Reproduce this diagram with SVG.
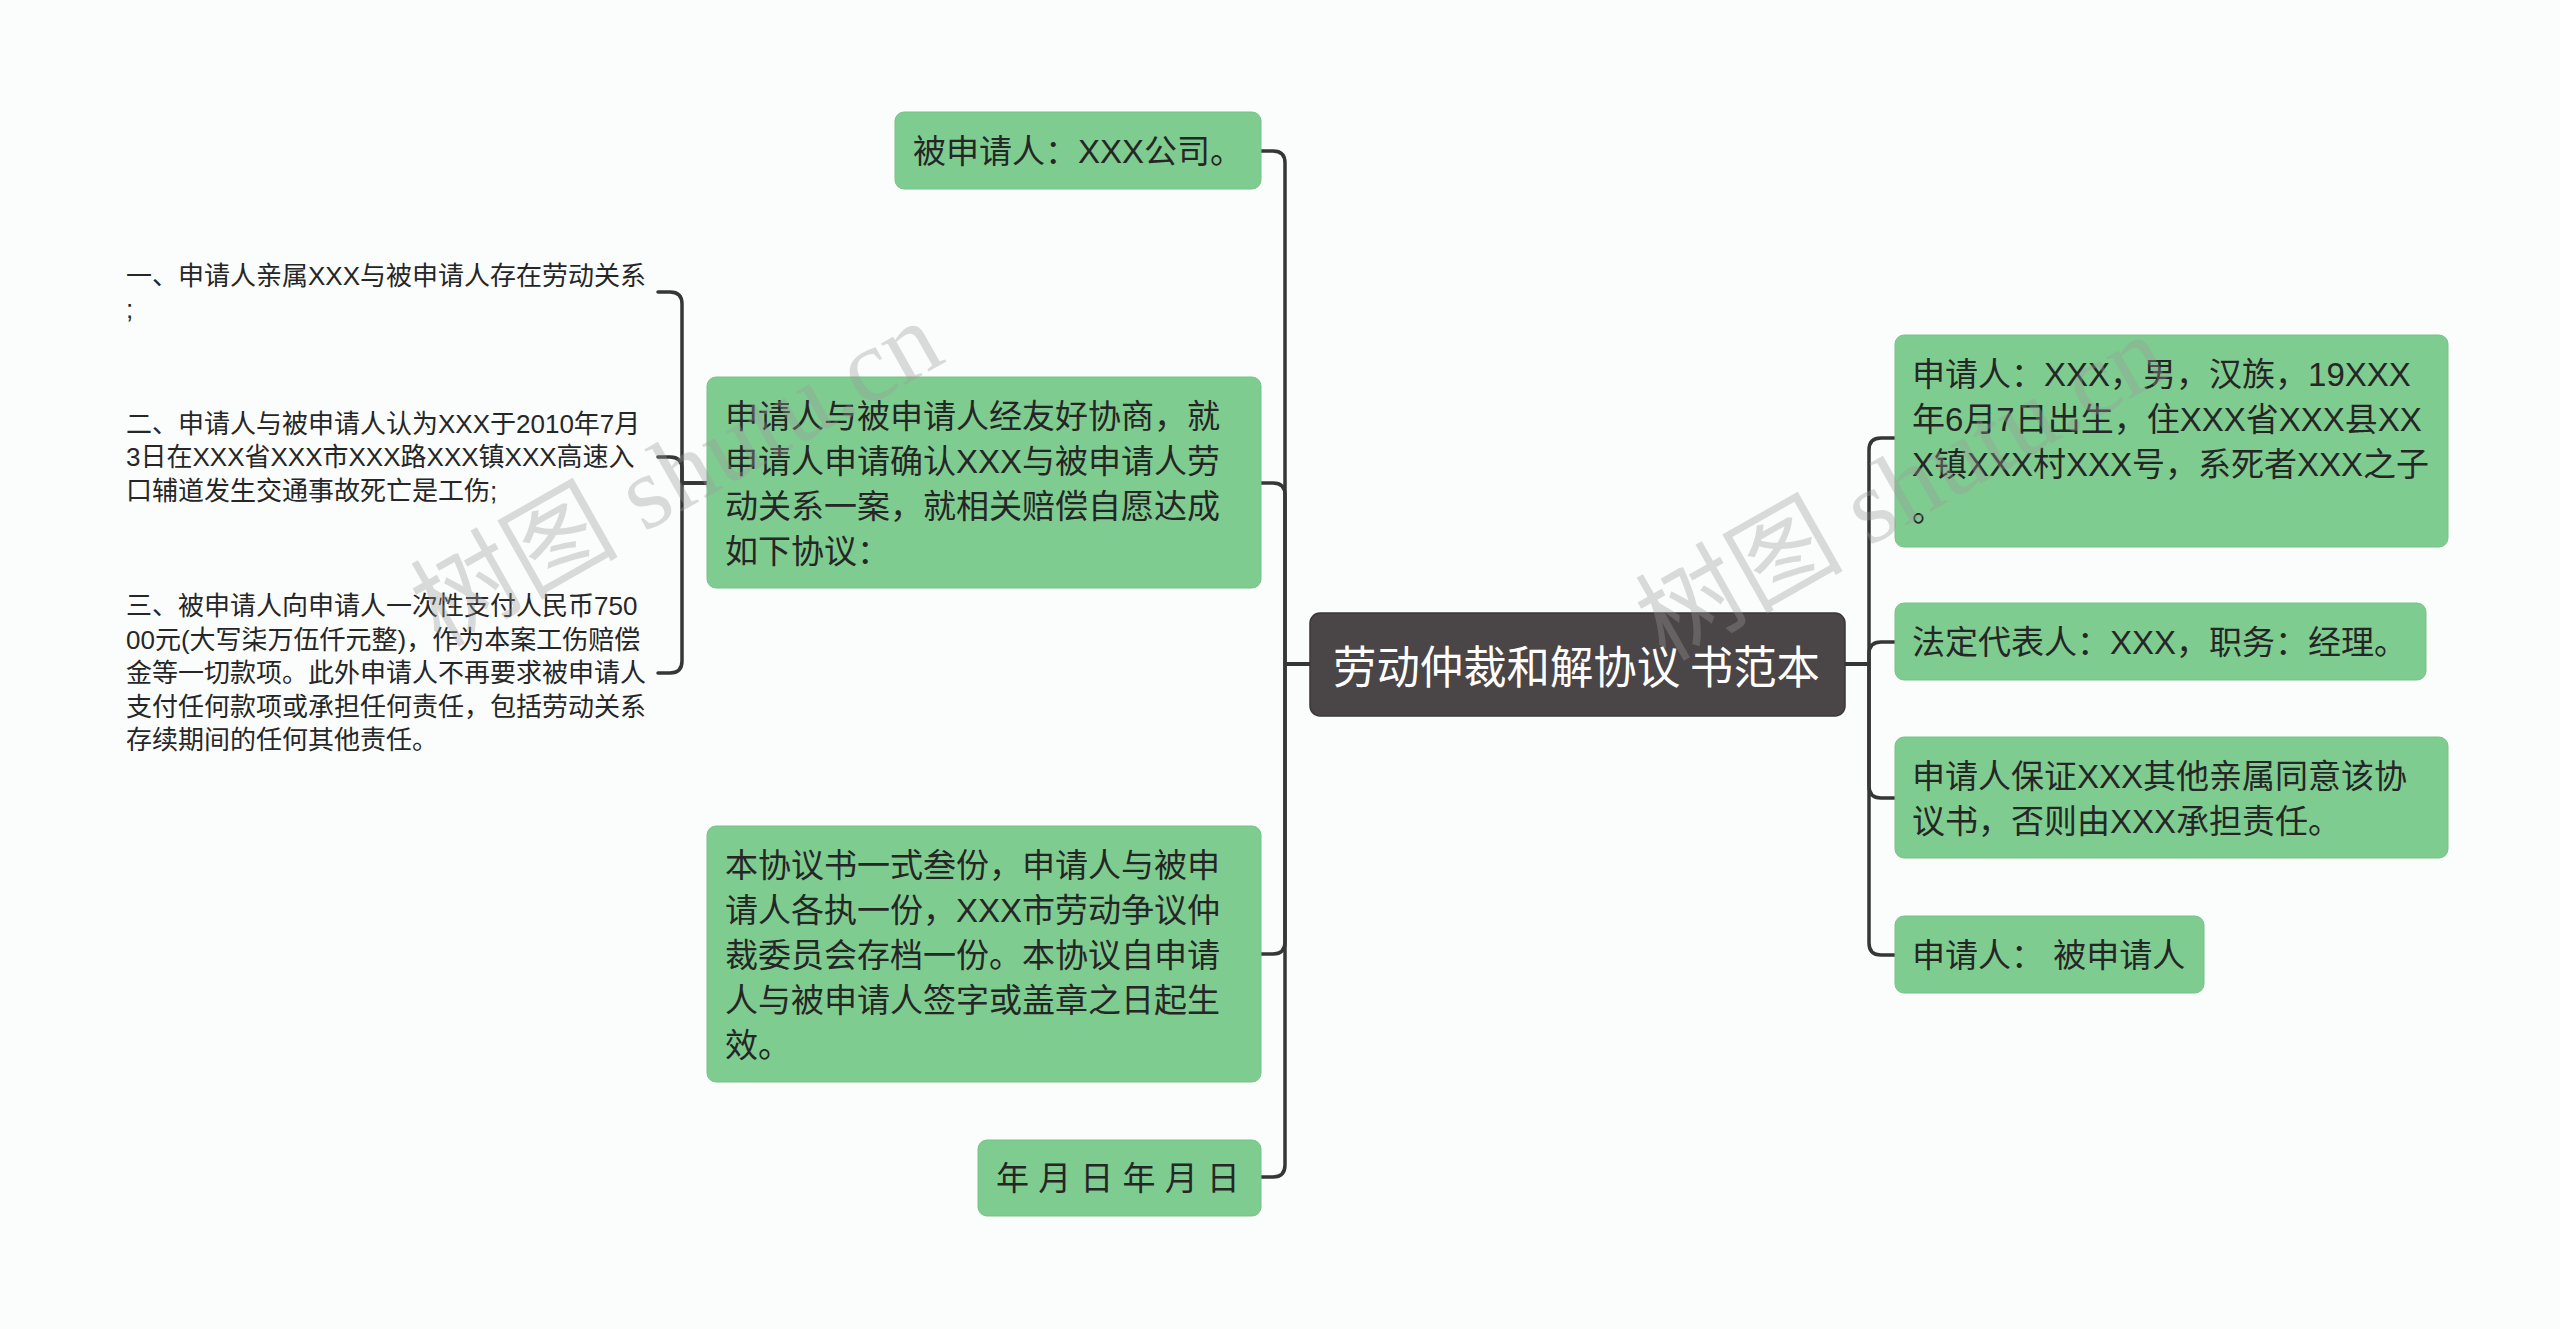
<svg xmlns="http://www.w3.org/2000/svg" width="2560" height="1329" viewBox="0 0 2560 1329">
<style>
.bg{fill:#fbfdfd}
.node rect{fill:#7fcc90;stroke:#76c287;stroke-width:1}
.node text{font-family:"Liberation Sans","Noto Sans CJK SC",sans-serif;font-size:33px;fill:#262626;dominant-baseline:central}
.root rect{fill:#4a4546;stroke:#3b3738;stroke-width:1.5}
.root text{font-family:"Noto Sans CJK SC",sans-serif;font-size:45px;fill:#ffffff;dominant-baseline:central}
.sub text{font-family:"Liberation Sans","Noto Sans CJK SC",sans-serif;font-size:26px;fill:#262626;dominant-baseline:central}
.conn path{fill:none;stroke:#363636;stroke-width:3.5;stroke-linecap:round;stroke-linejoin:round}
.wm{font-family:"Liberation Serif","Noto Sans CJK SC",serif;font-size:104px;fill:#9a9a9a;opacity:0.35}
</style>
<rect class="bg" x="0" y="0" width="2560" height="1329"/>

<g id="connectors" class="conn">
  <path d="M1310,664 H1285 V163 Q1285,151 1273,151 H1261"/>
  <path d="M1310,664 H1285 V495 Q1285,483 1273,483 H1261"/>
  <path d="M1310,664 H1285 V942 Q1285,954 1273,954 H1261"/>
  <path d="M1310,664 H1285 V1165 Q1285,1177 1273,1177 H1261"/>
  <path d="M1845,664 H1869 V450 Q1869,438 1881,438 H1895"/>
  <path d="M1845,664 H1869 V654 Q1869,642 1881,642 H1895"/>
  <path d="M1845,664 H1869 V786 Q1869,798 1881,798 H1895"/>
  <path d="M1845,664 H1869 V943 Q1869,955 1881,955 H1895"/>
  <path d="M707,483 H682 V304 Q682,292 670,292 H658"/>
  <path d="M707,483 H682 V469 Q682,457 670,457 H658"/>
  <path d="M707,483 H682 V661 Q682,673 670,673 H658"/>
</g>

<g id="root" class="root">
  <rect x="1310" y="613" width="535" height="103" rx="10"/>
  <text x="1333" y="664" textLength="487" lengthAdjust="spacingAndGlyphs">劳动仲裁和解协议 书范本</text>
</g>

<g id="node-l1" class="node">
  <rect x="895" y="112" width="366" height="77" rx="9"/>
  <text x="913" y="151">被申请人：XXX公司。</text>
</g>
<g id="node-l2" class="node">
  <rect x="707" y="377" width="554" height="211" rx="9"/>
  <text x="725" y="416">申请人与被申请人经友好协商，就</text>
  <text x="725" y="461">申请人申请确认XXX与被申请人劳</text>
  <text x="725" y="506">动关系一案，就相关赔偿自愿达成</text>
  <text x="725" y="551">如下协议：</text>
</g>
<g id="node-l3" class="node">
  <rect x="707" y="826" width="554" height="256" rx="9"/>
  <text x="725" y="865">本协议书一式叁份，申请人与被申</text>
  <text x="725" y="910">请人各执一份，XXX市劳动争议仲</text>
  <text x="725" y="955">裁委员会存档一份。本协议自申请</text>
  <text x="725" y="1000">人与被申请人签字或盖章之日起生</text>
  <text x="725" y="1045">效。</text>
</g>
<g id="node-l4" class="node">
  <rect x="978" y="1140" width="283" height="76" rx="9"/>
  <text x="996" y="1178">年 月 日 年 月 日</text>
</g>

<g id="sub-1" class="sub">
  <text x="126" y="276">一、申请人亲属XXX与被申请人存在劳动关系</text>
  <text x="126" y="309">;</text>
</g>
<g id="sub-2" class="sub">
  <text x="126" y="424">二、申请人与被申请人认为XXX于2010年7月</text>
  <text x="126" y="457">3日在XXX省XXX市XXX路XXX镇XXX高速入</text>
  <text x="126" y="491">口辅道发生交通事故死亡是工伤;</text>
</g>
<g id="sub-3" class="sub">
  <text x="126" y="606">三、被申请人向申请人一次性支付人民币750</text>
  <text x="126" y="640">00元(大写柒万伍仟元整)，作为本案工伤赔偿</text>
  <text x="126" y="673">金等一切款项。此外申请人不再要求被申请人</text>
  <text x="126" y="707">支付任何款项或承担任何责任，包括劳动关系</text>
  <text x="126" y="740">存续期间的任何其他责任。</text>
</g>

<g id="node-r1" class="node">
  <rect x="1895" y="335" width="553" height="212" rx="9"/>
  <text x="1912" y="374">申请人：XXX，男，汉族，19XXX</text>
  <text x="1912" y="419">年6月7日出生，住XXX省XXX县XX</text>
  <text x="1912" y="464">X镇XXX村XXX号，系死者XXX之子</text>
  <text x="1912" y="509">。</text>
</g>
<g id="node-r2" class="node">
  <rect x="1895" y="603" width="531" height="77" rx="9"/>
  <text x="1912" y="642">法定代表人：XXX，职务：经理。</text>
</g>
<g id="node-r3" class="node">
  <rect x="1895" y="737" width="553" height="121" rx="9"/>
  <text x="1912" y="776">申请人保证XXX其他亲属同意该协</text>
  <text x="1912" y="821">议书，否则由XXX承担责任。</text>
</g>
<g id="node-r4" class="node">
  <rect x="1895" y="916" width="309" height="77" rx="9"/>
  <text x="1912" y="955">申请人： 被申请人</text>
</g>

<g id="watermarks">
  <text class="wm" x="440" y="648" transform="rotate(-29.5 440 648)">树图 shutu.cn</text>
  <text class="wm" x="1665" y="662" transform="rotate(-29.5 1665 662)">树图 shutu.cn</text>
</g>
</svg>
